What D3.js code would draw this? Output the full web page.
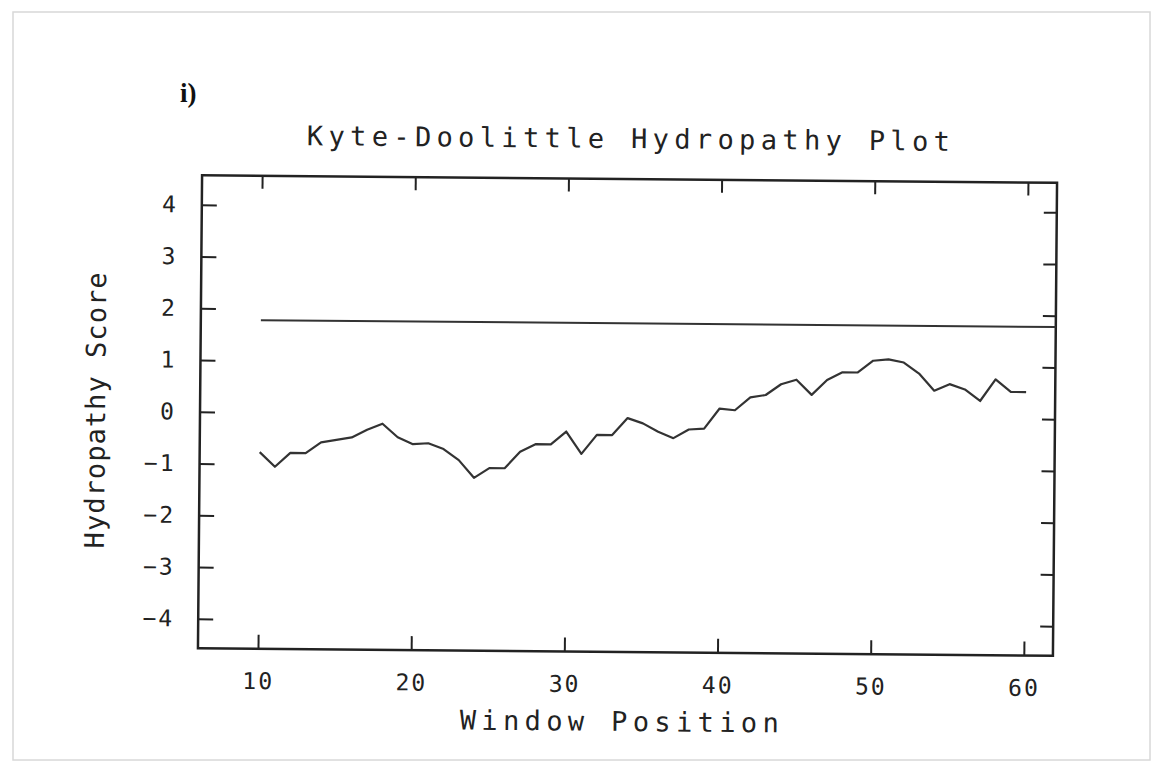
<!DOCTYPE html>
<html>
<head>
<meta charset="utf-8">
<script src="https://cdn.jsdelivr.net/npm/d3@7"></script>
<style>
  body { margin: 0; background: #fff; }
  svg { display: block; }
  .tick text { font-family: "DejaVu Sans Mono", monospace; font-size: 23px; fill: #222; letter-spacing: 2px; }
  .tick line { stroke: #222; stroke-width: 2px; }
</style>
</head>
<body>
<svg id="graphic" width="1157" height="783"></svg>
<script>
// window positions (x) and Kyte-Doolittle scores
var positions = [10, 11, 12, 13, 14, 15, 16, 17, 18, 19,
                 20, 21, 22, 23, 24, 25, 26, 27, 28, 29,
                 30, 31, 32, 33, 34, 35, 36, 37, 38, 39,
                 40, 41, 42, 43, 44, 45, 46, 47, 48, 49,
                 50, 51, 52, 53, 54, 55, 56, 57, 58, 59, 60];
var scores = [-0.77, -1.05, -0.78, -0.78, -0.57, -0.52, -0.47, -0.32, -0.20, -0.46,
              -0.59, -0.57, -0.68, -0.89, -1.23, -1.04, -1.04, -0.72, -0.57, -0.57,
              -0.32, -0.75, -0.38, -0.38, -0.05, -0.15, -0.31, -0.43, -0.26, -0.24,
               0.15,  0.12,  0.37,  0.42,  0.63,  0.72,  0.43,  0.72,  0.87,  0.87,
               1.10,  1.13,  1.07,  0.86,  0.53,  0.66,  0.56,  0.34,  0.76,  0.52, 0.52];
var xTicks = [10, 20, 30, 40, 50, 60];
var yTicks = [-4, -3, -2, -1, 0, 1, 2, 3, 4];
var threshold = 1.78;
var thresholdFrom = 10;

var svg = d3.select("#graphic");

// faint border of the scanned page
svg.append("rect")
  .attr("x", 13).attr("y", 12)
  .attr("width", 1137).attr("height", 748)
  .attr("fill", "none")
  .attr("stroke", "#d8d8d8")
  .attr("stroke-width", 1.5);

svg.append("text")
  .attr("x", 180).attr("y", 102)
  .attr("font-family", "Liberation Serif, serif")
  .attr("font-weight", "bold")
  .attr("font-size", 27)
  .attr("fill", "#111")
  .text("i)");

var plotLeft = 200, plotRight = 1055, plotTop = 179, plotBottom = 652;

// the scan is turned by about half a degree
var g = svg.append("g").attr("transform", "rotate(0.5, 627, 415.5)");

var x = d3.scaleLinear().domain([6.08, 61.9]).range([plotLeft, plotRight]);
var y = d3.scaleLinear().domain([-4.57, 4.57]).range([plotBottom, plotTop]);

g.append("text")
  .attr("x", 626).attr("y", 148)
  .attr("text-anchor", "middle")
  .attr("font-family", "DejaVu Sans Mono, monospace")
  .attr("font-size", 27)
  .attr("textLength", 643)
  .attr("lengthAdjust", "spacing")
  .attr("fill", "#222")
  .text("Kyte-Doolittle Hydropathy Plot");

g.append("g")
  .attr("transform", "translate(0," + plotBottom + ")")
  .call(d3.axisBottom(x).tickValues(xTicks).tickSizeInner(-14).tickSizeOuter(0).tickPadding(24))
  .call(a => a.select(".domain").remove());

g.append("g")
  .attr("transform", "translate(0," + plotTop + ")")
  .call(d3.axisTop(x).tickValues(xTicks).tickSizeInner(-13).tickSizeOuter(0).tickFormat(""))
  .call(a => a.select(".domain").remove());

g.append("g")
  .attr("transform", "translate(" + plotLeft + ",0)")
  .call(d3.axisLeft(y).tickValues(yTicks).tickSizeInner(-15).tickSizeOuter(0).tickPadding(24))
  .call(a => a.select(".domain").remove());

g.append("g")
  .attr("transform", "translate(" + plotRight + ",0)")
  .call(d3.axisRight(y).tickValues(yTicks).tickSizeInner(-13).tickSizeOuter(0).tickFormat(""))
  .call(a => a.select(".domain").remove());

g.append("rect")
  .attr("x", plotLeft).attr("y", plotTop)
  .attr("width", plotRight - plotLeft).attr("height", plotBottom - plotTop)
  .attr("fill", "none")
  .attr("stroke", "#222")
  .attr("stroke-width", 2.5);

g.append("line")
  .attr("x1", x(thresholdFrom)).attr("x2", plotRight)
  .attr("y1", y(threshold)).attr("y2", y(threshold))
  .attr("stroke", "#333")
  .attr("stroke-width", 2);

var line = d3.line()
  .x(function (d, i) { return x(positions[i]); })
  .y(function (d) { return y(d); });

g.append("path")
  .datum(scores)
  .attr("d", line)
  .attr("fill", "none")
  .attr("stroke", "#333")
  .attr("stroke-width", 2.2)
  .attr("stroke-linejoin", "round");

g.append("text")
  .attr("x", 622).attr("y", 731)
  .attr("text-anchor", "middle")
  .attr("font-family", "DejaVu Sans Mono, monospace")
  .attr("font-size", 27)
  .attr("textLength", 319)
  .attr("lengthAdjust", "spacing")
  .attr("fill", "#222")
  .text("Window Position");

g.append("text")
  .attr("transform", "translate(105,415) rotate(-90)")
  .attr("text-anchor", "middle")
  .attr("font-family", "DejaVu Sans Mono, monospace")
  .attr("font-size", 27)
  .attr("textLength", 276)
  .attr("lengthAdjust", "spacing")
  .attr("fill", "#222")
  .text("Hydropathy Score");
</script>
</body>
</html>
